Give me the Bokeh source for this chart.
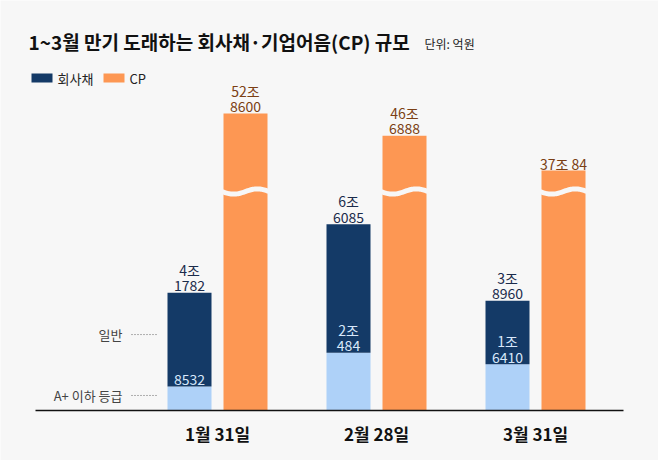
import numpy as np
from bokeh.plotting import figure
from bokeh.models import Range1d
from bokeh.core.properties import value
from bokeh.embed import file_html
from bokeh.resources import INLINE

# ---------------- data (단위: 억원) ----------------
dates = ["1월 31일", "2월 28일", "3월 31일"]
bond_total = [41782, 66085, 38960]          # 회사채 전체
bond_low = [8532, 20484, 16410]             # 회사채 중 A+ 이하 등급
cp_total = [528600, 466888, 370084]         # CP
bond_total_l1 = ["4조", "6조", "3조"]
bond_total_l2 = ["1782", "6085", "8960"]
bond_low_l1 = ["", "2조", "1조"]
bond_low_l2 = ["8532", "484", "6410"]
cp_l1 = ["52조", "46조", ""]
cp_l2 = ["8600", "6888", "37조 84"]
seg_names = ["일반", "A+ 이하 등급"]
legend_names = ["회사채", "CP"]
title_txt = "1~3월 만기 도래하는 회사채·기업어음(CP) 규모"
unit_txt = "단위: 억원"

# ---------------- layout / style ----------------
W, H = 658, 460
BASE_Y = 410              # page y of the baseline
PX_GROUP = 159.0          # px between date groups
PX_UNIT = 0.00282         # px per 억원 (bond scale)
CUT = 219 / PX_UNIT       # where the CP bars are broken
CP_FLOOR = 312000         # CP value shown at the break
CP_K = 0.1275             # compression above the break

BG = "#f7f7f7"
NAVY = "#143a67"
LIGHT = "#aed1f8"
ORANGE = "#fd9753"
CP_TXT = "#7b3f14"
NAVY_TXT = "#1b2b4b"
IN_TXT = "#d8e8fb"
FONT = "Noto Sans CJK KR"


def dx(page_px):
    return 1 + (page_px - 376) / PX_GROUP


def dy(page_px):
    return (BASE_Y - page_px) / PX_UNIT


BW = 44 / PX_GROUP
OFF = 28 / PX_GROUP

idx = np.arange(len(dates))
xb = idx - OFF
xc = idx + OFF
cp_disp = [CUT + (v - CP_FLOOR) * CP_K for v in cp_total]

p = figure(width=W, height=H, output_backend="svg", toolbar_location=None,
           x_range=Range1d(dx(0), dx(W)), y_range=Range1d(dy(H), dy(0)),
           x_axis_location=None, y_axis_location=None,
           min_border=0, background_fill_color=BG, border_fill_color=BG,
           outline_line_color=None)
p.grid.visible = False

# bars
p.vbar(x=xb, bottom=0, top=bond_low, width=BW, fill_color=LIGHT, line_color=None)
p.vbar(x=xb, bottom=bond_low, top=bond_total, width=BW, fill_color=NAVY, line_color=None)
p.vbar(x=xc, bottom=0, top=cp_disp, width=BW, fill_color=ORANGE, line_color=None)

# wave break on CP bars
A = 2.6 / PX_UNIT
wx, wy = [], []
for c in xc:
    xs = np.linspace(c - BW / 2 - 0.01, c + BW / 2 + 0.01, 48)
    t = (xs - xs[0]) / (xs[-1] - xs[0])
    wx.append(list(xs))
    wy.append(list(CUT - A * np.sin(2 * np.pi * t)))
p.multi_line(wx, wy, line_color=BG, line_width=5)

# baseline
p.segment(x0=[dx(35)], x1=[dx(623)], y0=[0], y1=[0], line_color="#111111",
          line_width=1.6)

# value labels (two lines each)
common = dict(text_align="center", text_font=value(FONT), text_font_size="14px",
              text_baseline="alphabetic")
for l1, l2, xx, yy, col in [(bond_total_l1, bond_total_l2, xb, bond_total, NAVY_TXT),
                            (bond_low_l1, bond_low_l2, xb, bond_low, IN_TXT),
                            (cp_l1, cp_l2, xc, cp_disp, CP_TXT)]:
    p.text(x=xx, y=yy, text=l2, y_offset=-7, text_color=col, **common)
    p.text(x=xx, y=yy, text=l1, y_offset=-23, text_color=col, **common)

# segment annotations (pointing to first bar)
seg_y = [(bond_low[0] + bond_total[0]) / 2 + 5 / PX_UNIT, bond_low[0] / 2 + 3 / PX_UNIT]
lead_end = xb[0] - BW / 2 - 9 / PX_GROUP
lead_start = lead_end - 27 / PX_GROUP
p.segment(x0=[lead_start] * 2, x1=[lead_end] * 2, y0=seg_y, y1=seg_y,
          line_color="#666666", line_width=1, line_dash="1 2")
p.text(x=[lead_start - 9 / PX_GROUP] * 2, y=seg_y, text=seg_names,
       text_align="right", text_baseline="middle", text_font=value(FONT),
       text_font_size="13px", text_color="#444444")

# date labels
p.text(x=idx, y=[0] * len(idx), text=dates, y_offset=23, text_align="center",
       text_baseline="middle", text_font=value(FONT), text_font_size="17px",
       text_font_style="bold", text_color="#111111")

# title
p.text(x=[dx(28)], y=[dy(41)], text=[title_txt], text_align="left",
       text_baseline="middle", text_font=value(FONT), text_font_size="19px",
       text_font_style="bold", text_color="#111111")
p.text(x=[dx(424)], y=[dy(43)], text=[unit_txt], text_align="left",
       text_baseline="middle", text_font=value(FONT), text_font_size="12px",
       text_color="#222222")

# legend (manual)
p.rect(x=[dx(41.5), dx(113.5)], y=[dy(77.5)] * 2, width=21 / PX_GROUP,
       height=9 / PX_UNIT, fill_color=[NAVY, ORANGE], line_color=None)
p.text(x=[dx(57), dx(129)], y=[dy(77.5)] * 2, text=legend_names,
       text_align="left", text_baseline="middle", text_font=value(FONT),
       text_font_size="13px", text_color="#222222")

open("out.html", "w").write(file_html(p, INLINE))
